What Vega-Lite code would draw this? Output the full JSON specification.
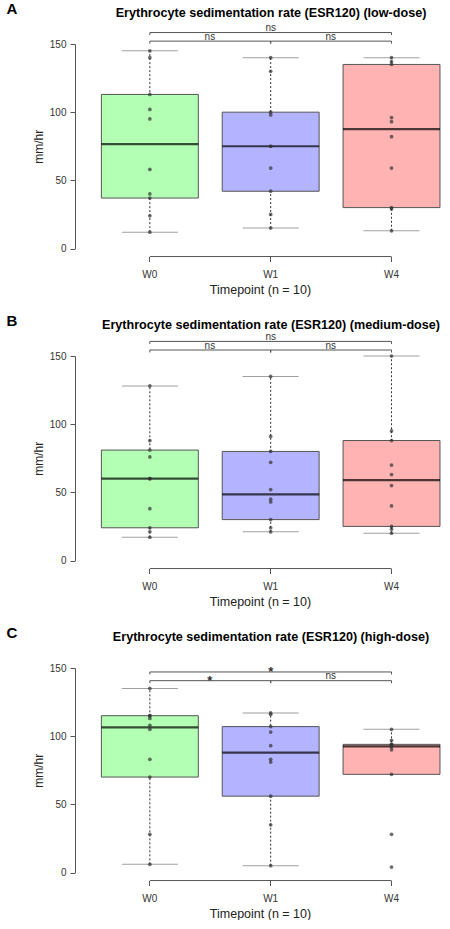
{
"$schema": "https://vega.github.io/schema/vega-lite/v6.json",
"background": "white",
"padding": {"left": 6, "top": 2, "right": 0, "bottom": 0},
"config": {"view": {"stroke": null}, "font": "Liberation Sans", "axis": {"grid": false, "domainColor": "#555", "tickColor": "#555", "labelColor": "#333", "titleColor": "#222", "titleFontWeight": "normal", "labelFont": "Liberation Sans", "titleFont": "Liberation Sans"}},
"datasets": {
"pts": [
{"p":"A","tp":"W0","v":12},{"p":"A","tp":"W0","v":24},{"p":"A","tp":"W0","v":37},{"p":"A","tp":"W0","v":40},{"p":"A","tp":"W0","v":58},{"p":"A","tp":"W0","v":95},{"p":"A","tp":"W0","v":102},{"p":"A","tp":"W0","v":113},{"p":"A","tp":"W0","v":140},{"p":"A","tp":"W0","v":145},
{"p":"A","tp":"W1","v":15},{"p":"A","tp":"W1","v":25},{"p":"A","tp":"W1","v":42},{"p":"A","tp":"W1","v":59},{"p":"A","tp":"W1","v":75},{"p":"A","tp":"W1","v":75},{"p":"A","tp":"W1","v":98},{"p":"A","tp":"W1","v":100},{"p":"A","tp":"W1","v":130},{"p":"A","tp":"W1","v":140},
{"p":"A","tp":"W4","v":13},{"p":"A","tp":"W4","v":29},{"p":"A","tp":"W4","v":30},{"p":"A","tp":"W4","v":59},{"p":"A","tp":"W4","v":82},{"p":"A","tp":"W4","v":93},{"p":"A","tp":"W4","v":96},{"p":"A","tp":"W4","v":135},{"p":"A","tp":"W4","v":137},{"p":"A","tp":"W4","v":140},
{"p":"B","tp":"W0","v":17},{"p":"B","tp":"W0","v":21},{"p":"B","tp":"W0","v":24},{"p":"B","tp":"W0","v":38},{"p":"B","tp":"W0","v":60},{"p":"B","tp":"W0","v":60},{"p":"B","tp":"W0","v":76},{"p":"B","tp":"W0","v":81},{"p":"B","tp":"W0","v":88},{"p":"B","tp":"W0","v":128},
{"p":"B","tp":"W1","v":21},{"p":"B","tp":"W1","v":24},{"p":"B","tp":"W1","v":30},{"p":"B","tp":"W1","v":43},{"p":"B","tp":"W1","v":45},{"p":"B","tp":"W1","v":52},{"p":"B","tp":"W1","v":72},{"p":"B","tp":"W1","v":80},{"p":"B","tp":"W1","v":91},{"p":"B","tp":"W1","v":135},
{"p":"B","tp":"W4","v":20},{"p":"B","tp":"W4","v":23},{"p":"B","tp":"W4","v":25},{"p":"B","tp":"W4","v":40},{"p":"B","tp":"W4","v":55},{"p":"B","tp":"W4","v":63},{"p":"B","tp":"W4","v":70},{"p":"B","tp":"W4","v":88},{"p":"B","tp":"W4","v":95},{"p":"B","tp":"W4","v":150},
{"p":"C","tp":"W0","v":6},{"p":"C","tp":"W0","v":28},{"p":"C","tp":"W0","v":70},{"p":"C","tp":"W0","v":83},{"p":"C","tp":"W0","v":105},{"p":"C","tp":"W0","v":108},{"p":"C","tp":"W0","v":113},{"p":"C","tp":"W0","v":115},{"p":"C","tp":"W0","v":115},{"p":"C","tp":"W0","v":135},
{"p":"C","tp":"W1","v":5},{"p":"C","tp":"W1","v":35},{"p":"C","tp":"W1","v":56},{"p":"C","tp":"W1","v":81},{"p":"C","tp":"W1","v":83},{"p":"C","tp":"W1","v":93},{"p":"C","tp":"W1","v":103},{"p":"C","tp":"W1","v":107},{"p":"C","tp":"W1","v":116},{"p":"C","tp":"W1","v":117},
{"p":"C","tp":"W4","v":4},{"p":"C","tp":"W4","v":28},{"p":"C","tp":"W4","v":72},{"p":"C","tp":"W4","v":90},{"p":"C","tp":"W4","v":92},{"p":"C","tp":"W4","v":93},{"p":"C","tp":"W4","v":94},{"p":"C","tp":"W4","v":94},{"p":"C","tp":"W4","v":97},{"p":"C","tp":"W4","v":105}
],
"box": [
{"p":"A","tp":"W0","low":12,"q1":37,"med":76.5,"q3":113,"high":145},
{"p":"A","tp":"W1","low":15,"q1":42,"med":75,"q3":100,"high":140},
{"p":"A","tp":"W4","low":13,"q1":30,"med":87.5,"q3":135,"high":140},
{"p":"B","tp":"W0","low":17,"q1":24,"med":60,"q3":81,"high":128},
{"p":"B","tp":"W1","low":21,"q1":30,"med":48.5,"q3":80,"high":135},
{"p":"B","tp":"W4","low":20,"q1":25,"med":59,"q3":88,"high":150},
{"p":"C","tp":"W0","low":6,"q1":70,"med":106.5,"q3":115,"high":135},
{"p":"C","tp":"W1","low":5,"q1":56,"med":88,"q3":107,"high":117},
{"p":"C","tp":"W4","low":72,"q1":72,"med":92.5,"q3":94,"high":105}
],
"br": [
{"p":"A","from":"W0","to":"W4","level":158.4,"label":"ns","span":2},
{"p":"A","from":"W0","to":"W1","level":152.1,"label":"ns","span":1},
{"p":"A","from":"W1","to":"W4","level":152.1,"label":"ns","span":1},
{"p":"B","from":"W0","to":"W4","level":160.7,"label":"ns","span":2},
{"p":"B","from":"W0","to":"W1","level":154.4,"label":"ns","span":1},
{"p":"B","from":"W1","to":"W4","level":154.4,"label":"ns","span":1},
{"p":"C","from":"W0","to":"W4","level":147.1,"label":"*","span":2},
{"p":"C","from":"W0","to":"W1","level":140.7,"label":"*","span":1},
{"p":"C","from":"W1","to":"W4","level":140.7,"label":"ns","span":1}
]
},
"vconcat": [
{
"width": 370, "height": 204.5,
"title": {"text": "Erythrocyte sedimentation rate (ESR120) (low-dose)", "fontSize": 12.6, "fontWeight": "bold", "font": "Liberation Sans", "frame": "group", "anchor": "middle", "dx": 11, "offset": -17, "color": "#000"},
"layer": [
{"data": {"name": "box"}, "transform": [{"filter": "datum.p === 'A'"}], "mark": {"type": "rule", "color": "#333", "strokeDash": [2, 2], "strokeWidth": 1},
 "encoding": {"x": {"field": "tp", "type": "nominal", "title": "Timepoint (n = 10)", "scale": {"domain": ["W0", "W1", "W4"], "paddingInner": 0.198, "paddingOuter": 0.13, "align": 0.84}, "axis": {"domain": false, "tickSize": 5, "offset": 8, "labelAngle": 0, "labelFontSize": 10, "labelPadding": 8, "titleFontSize": 12.5, "titlePadding": 4}},
  "y": {"field": "low", "type": "quantitative", "title": "mm/hr", "scale": {"domain": [0, 150], "nice": false, "zero": false}, "axis": {"values": [0, 50, 100, 150], "tickSize": 5, "labelFontSize": 10, "labelPadding": 4, "titleFontSize": 12, "titlePadding": 4}},
  "y2": {"field": "high"}}},
{"data": {"name": "box"}, "transform": [{"filter": "datum.p === 'A'"}], "mark": {"type": "tick", "color": "#777", "size": 56, "thickness": 1},
 "encoding": {"x": {"field": "tp", "type": "nominal", "title": "Timepoint (n = 10)"}, "y": {"field": "low", "type": "quantitative", "title": "mm/hr"}}},
{"data": {"name": "box"}, "transform": [{"filter": "datum.p === 'A'"}], "mark": {"type": "tick", "color": "#777", "size": 56, "thickness": 1},
 "encoding": {"x": {"field": "tp", "type": "nominal", "title": "Timepoint (n = 10)"}, "y": {"field": "high", "type": "quantitative", "title": "mm/hr"}}},
{"data": {"name": "box"}, "transform": [{"filter": "datum.p === 'A'"}], "mark": {"type": "bar", "stroke": "#555", "strokeWidth": 1},
 "encoding": {"x": {"field": "tp", "type": "nominal", "title": "Timepoint (n = 10)"}, "y": {"field": "q1", "type": "quantitative", "title": "mm/hr"}, "y2": {"field": "q3"},
  "color": {"field": "tp", "type": "nominal", "scale": {"domain": ["W0", "W1", "W4"], "range": ["#b3ffb3", "#b3b3ff", "#ffb3b3"]}, "legend": null}}},
{"data": {"name": "box"}, "transform": [{"filter": "datum.p === 'A'"}], "mark": {"type": "tick", "color": "#000", "size": 97, "thickness": 2.2},
 "encoding": {"x": {"field": "tp", "type": "nominal", "title": "Timepoint (n = 10)"}, "y": {"field": "med", "type": "quantitative", "title": "mm/hr"}}},
{"data": {"name": "pts"}, "transform": [{"filter": "datum.p === 'A'"}], "mark": {"type": "point", "filled": true, "color": "#333", "opacity": 0.7, "size": 14, "strokeWidth": 0},
 "encoding": {"x": {"field": "tp", "type": "nominal", "title": "Timepoint (n = 10)"}, "y": {"field": "v", "type": "quantitative", "title": "mm/hr"}}},
{"data": {"values": [{}]}, "mark": {"type": "rule", "color": "#555", "strokeWidth": 1},
 "encoding": {"x": {"datum": "W0", "type": "nominal", "title": "Timepoint (n = 10)"}, "x2": {"datum": "W4"}, "y": {"datum": -5.9, "type": "quantitative", "title": "mm/hr"}}},
{"data": {"name": "br"}, "transform": [{"filter": "datum.p === 'A'"}], "mark": {"type": "rule", "color": "#555", "strokeWidth": 1},
 "encoding": {"x": {"field": "from", "type": "nominal", "title": "Timepoint (n = 10)"}, "x2": {"field": "to"}, "y": {"field": "level", "type": "quantitative", "title": "mm/hr"}}},
{"data": {"name": "br"}, "transform": [{"filter": "datum.p === 'A'"}], "mark": {"type": "point", "shape": "M0,0V1", "size": 25, "filled": false, "color": "#555", "strokeWidth": 1, "opacity": 1},
 "encoding": {"x": {"field": "from", "type": "nominal", "title": "Timepoint (n = 10)"}, "y": {"field": "level", "type": "quantitative", "title": "mm/hr"}}},
{"data": {"name": "br"}, "transform": [{"filter": "datum.p === 'A'"}], "mark": {"type": "point", "shape": "M0,0V1", "size": 25, "filled": false, "color": "#555", "strokeWidth": 1, "opacity": 1},
 "encoding": {"x": {"field": "to", "type": "nominal", "title": "Timepoint (n = 10)"}, "y": {"field": "level", "type": "quantitative", "title": "mm/hr"}}},
{"data": {"name": "br"}, "transform": [{"filter": "datum.p === 'A' && datum.span === 1 && datum.label === 'ns'"}], "mark": {"type": "text", "fontSize": 10, "color": "#333", "baseline": "alphabetic", "dx": 60, "dy": -1.5},
 "encoding": {"x": {"field": "from", "type": "nominal", "title": "Timepoint (n = 10)"}, "y": {"field": "level", "type": "quantitative", "title": "mm/hr"}, "text": {"field": "label"}}},
{"data": {"name": "br"}, "transform": [{"filter": "datum.p === 'A' && datum.span === 2 && datum.label === 'ns'"}], "mark": {"type": "text", "fontSize": 10, "color": "#333", "baseline": "alphabetic", "dy": -1.5},
 "encoding": {"x": {"datum": "W1", "type": "nominal", "title": "Timepoint (n = 10)"}, "y": {"field": "level", "type": "quantitative", "title": "mm/hr"}, "text": {"field": "label"}}},
{"data": {"values": [{}]}, "mark": {"type": "text", "fontSize": 15, "fontWeight": "bold", "color": "#000", "baseline": "middle", "align": "center", "dx": -138},
 "encoding": {"x": {"datum": "W0", "type": "nominal", "title": "Timepoint (n = 10)"}, "y": {"datum": 175.5, "type": "quantitative", "title": "mm/hr"}, "text": {"value": "A"}}}
]
},
{
"width": 370, "height": 204.5,
"title": {"text": "Erythrocyte sedimentation rate (ESR120) (medium-dose)", "fontSize": 12.6, "fontWeight": "bold", "font": "Liberation Sans", "frame": "group", "anchor": "middle", "dx": 11, "offset": -17, "color": "#000"},
"layer": [
{"data": {"name": "box"}, "transform": [{"filter": "datum.p === 'B'"}], "mark": {"type": "rule", "color": "#333", "strokeDash": [2, 2], "strokeWidth": 1},
 "encoding": {"x": {"field": "tp", "type": "nominal", "title": "Timepoint (n = 10)", "scale": {"domain": ["W0", "W1", "W4"], "paddingInner": 0.198, "paddingOuter": 0.13, "align": 0.84}, "axis": {"domain": false, "tickSize": 5, "offset": 8, "labelAngle": 0, "labelFontSize": 10, "labelPadding": 8, "titleFontSize": 12.5, "titlePadding": 4}},
  "y": {"field": "low", "type": "quantitative", "title": "mm/hr", "scale": {"domain": [0, 150], "nice": false, "zero": false}, "axis": {"values": [0, 50, 100, 150], "tickSize": 5, "labelFontSize": 10, "labelPadding": 4, "titleFontSize": 12, "titlePadding": 4}},
  "y2": {"field": "high"}}},
{"data": {"name": "box"}, "transform": [{"filter": "datum.p === 'B'"}], "mark": {"type": "tick", "color": "#777", "size": 56, "thickness": 1},
 "encoding": {"x": {"field": "tp", "type": "nominal", "title": "Timepoint (n = 10)"}, "y": {"field": "low", "type": "quantitative", "title": "mm/hr"}}},
{"data": {"name": "box"}, "transform": [{"filter": "datum.p === 'B'"}], "mark": {"type": "tick", "color": "#777", "size": 56, "thickness": 1},
 "encoding": {"x": {"field": "tp", "type": "nominal", "title": "Timepoint (n = 10)"}, "y": {"field": "high", "type": "quantitative", "title": "mm/hr"}}},
{"data": {"name": "box"}, "transform": [{"filter": "datum.p === 'B'"}], "mark": {"type": "bar", "stroke": "#555", "strokeWidth": 1},
 "encoding": {"x": {"field": "tp", "type": "nominal", "title": "Timepoint (n = 10)"}, "y": {"field": "q1", "type": "quantitative", "title": "mm/hr"}, "y2": {"field": "q3"},
  "color": {"field": "tp", "type": "nominal", "scale": {"domain": ["W0", "W1", "W4"], "range": ["#b3ffb3", "#b3b3ff", "#ffb3b3"]}, "legend": null}}},
{"data": {"name": "box"}, "transform": [{"filter": "datum.p === 'B'"}], "mark": {"type": "tick", "color": "#000", "size": 97, "thickness": 2.2},
 "encoding": {"x": {"field": "tp", "type": "nominal", "title": "Timepoint (n = 10)"}, "y": {"field": "med", "type": "quantitative", "title": "mm/hr"}}},
{"data": {"name": "pts"}, "transform": [{"filter": "datum.p === 'B'"}], "mark": {"type": "point", "filled": true, "color": "#333", "opacity": 0.7, "size": 14, "strokeWidth": 0},
 "encoding": {"x": {"field": "tp", "type": "nominal", "title": "Timepoint (n = 10)"}, "y": {"field": "v", "type": "quantitative", "title": "mm/hr"}}},
{"data": {"values": [{}]}, "mark": {"type": "rule", "color": "#555", "strokeWidth": 1},
 "encoding": {"x": {"datum": "W0", "type": "nominal", "title": "Timepoint (n = 10)"}, "x2": {"datum": "W4"}, "y": {"datum": -5.9, "type": "quantitative", "title": "mm/hr"}}},
{"data": {"name": "br"}, "transform": [{"filter": "datum.p === 'B'"}], "mark": {"type": "rule", "color": "#555", "strokeWidth": 1},
 "encoding": {"x": {"field": "from", "type": "nominal", "title": "Timepoint (n = 10)"}, "x2": {"field": "to"}, "y": {"field": "level", "type": "quantitative", "title": "mm/hr"}}},
{"data": {"name": "br"}, "transform": [{"filter": "datum.p === 'B'"}], "mark": {"type": "point", "shape": "M0,0V1", "size": 25, "filled": false, "color": "#555", "strokeWidth": 1, "opacity": 1},
 "encoding": {"x": {"field": "from", "type": "nominal", "title": "Timepoint (n = 10)"}, "y": {"field": "level", "type": "quantitative", "title": "mm/hr"}}},
{"data": {"name": "br"}, "transform": [{"filter": "datum.p === 'B'"}], "mark": {"type": "point", "shape": "M0,0V1", "size": 25, "filled": false, "color": "#555", "strokeWidth": 1, "opacity": 1},
 "encoding": {"x": {"field": "to", "type": "nominal", "title": "Timepoint (n = 10)"}, "y": {"field": "level", "type": "quantitative", "title": "mm/hr"}}},
{"data": {"name": "br"}, "transform": [{"filter": "datum.p === 'B' && datum.span === 1 && datum.label === 'ns'"}], "mark": {"type": "text", "fontSize": 10, "color": "#333", "baseline": "alphabetic", "dx": 60, "dy": -1.5},
 "encoding": {"x": {"field": "from", "type": "nominal", "title": "Timepoint (n = 10)"}, "y": {"field": "level", "type": "quantitative", "title": "mm/hr"}, "text": {"field": "label"}}},
{"data": {"name": "br"}, "transform": [{"filter": "datum.p === 'B' && datum.span === 2 && datum.label === 'ns'"}], "mark": {"type": "text", "fontSize": 10, "color": "#333", "baseline": "alphabetic", "dy": -1.5},
 "encoding": {"x": {"datum": "W1", "type": "nominal", "title": "Timepoint (n = 10)"}, "y": {"field": "level", "type": "quantitative", "title": "mm/hr"}, "text": {"field": "label"}}},
{"data": {"values": [{}]}, "mark": {"type": "text", "fontSize": 15, "fontWeight": "bold", "color": "#000", "baseline": "middle", "align": "center", "dx": -138},
 "encoding": {"x": {"datum": "W0", "type": "nominal", "title": "Timepoint (n = 10)"}, "y": {"datum": 175.5, "type": "quantitative", "title": "mm/hr"}, "text": {"value": "B"}}}
]
},
{
"width": 370, "height": 204.5,
"title": {"text": "Erythrocyte sedimentation rate (ESR120) (high-dose)", "fontSize": 12.6, "fontWeight": "bold", "font": "Liberation Sans", "frame": "group", "anchor": "middle", "dx": 11, "offset": -17, "color": "#000"},
"layer": [
{"data": {"name": "box"}, "transform": [{"filter": "datum.p === 'C'"}], "mark": {"type": "rule", "color": "#333", "strokeDash": [2, 2], "strokeWidth": 1},
 "encoding": {"x": {"field": "tp", "type": "nominal", "title": "Timepoint (n = 10)", "scale": {"domain": ["W0", "W1", "W4"], "paddingInner": 0.198, "paddingOuter": 0.13, "align": 0.84}, "axis": {"domain": false, "tickSize": 5, "offset": 8, "labelAngle": 0, "labelFontSize": 10, "labelPadding": 8, "titleFontSize": 12.5, "titlePadding": 4}},
  "y": {"field": "low", "type": "quantitative", "title": "mm/hr", "scale": {"domain": [0, 150], "nice": false, "zero": false}, "axis": {"values": [0, 50, 100, 150], "tickSize": 5, "labelFontSize": 10, "labelPadding": 4, "titleFontSize": 12, "titlePadding": 4}},
  "y2": {"field": "high"}}},
{"data": {"name": "box"}, "transform": [{"filter": "datum.p === 'C' && datum.low < datum.q1"}], "mark": {"type": "tick", "color": "#777", "size": 56, "thickness": 1},
 "encoding": {"x": {"field": "tp", "type": "nominal", "title": "Timepoint (n = 10)"}, "y": {"field": "low", "type": "quantitative", "title": "mm/hr"}}},
{"data": {"name": "box"}, "transform": [{"filter": "datum.p === 'C'"}], "mark": {"type": "tick", "color": "#777", "size": 56, "thickness": 1},
 "encoding": {"x": {"field": "tp", "type": "nominal", "title": "Timepoint (n = 10)"}, "y": {"field": "high", "type": "quantitative", "title": "mm/hr"}}},
{"data": {"name": "box"}, "transform": [{"filter": "datum.p === 'C'"}], "mark": {"type": "bar", "stroke": "#555", "strokeWidth": 1},
 "encoding": {"x": {"field": "tp", "type": "nominal", "title": "Timepoint (n = 10)"}, "y": {"field": "q1", "type": "quantitative", "title": "mm/hr"}, "y2": {"field": "q3"},
  "color": {"field": "tp", "type": "nominal", "scale": {"domain": ["W0", "W1", "W4"], "range": ["#b3ffb3", "#b3b3ff", "#ffb3b3"]}, "legend": null}}},
{"data": {"name": "box"}, "transform": [{"filter": "datum.p === 'C'"}], "mark": {"type": "tick", "color": "#000", "size": 97, "thickness": 2.2},
 "encoding": {"x": {"field": "tp", "type": "nominal", "title": "Timepoint (n = 10)"}, "y": {"field": "med", "type": "quantitative", "title": "mm/hr"}}},
{"data": {"name": "pts"}, "transform": [{"filter": "datum.p === 'C'"}], "mark": {"type": "point", "filled": true, "color": "#333", "opacity": 0.7, "size": 14, "strokeWidth": 0},
 "encoding": {"x": {"field": "tp", "type": "nominal", "title": "Timepoint (n = 10)"}, "y": {"field": "v", "type": "quantitative", "title": "mm/hr"}}},
{"data": {"values": [{}]}, "mark": {"type": "rule", "color": "#555", "strokeWidth": 1},
 "encoding": {"x": {"datum": "W0", "type": "nominal", "title": "Timepoint (n = 10)"}, "x2": {"datum": "W4"}, "y": {"datum": -5.9, "type": "quantitative", "title": "mm/hr"}}},
{"data": {"name": "br"}, "transform": [{"filter": "datum.p === 'C'"}], "mark": {"type": "rule", "color": "#555", "strokeWidth": 1},
 "encoding": {"x": {"field": "from", "type": "nominal", "title": "Timepoint (n = 10)"}, "x2": {"field": "to"}, "y": {"field": "level", "type": "quantitative", "title": "mm/hr"}}},
{"data": {"name": "br"}, "transform": [{"filter": "datum.p === 'C'"}], "mark": {"type": "point", "shape": "M0,0V1", "size": 25, "filled": false, "color": "#555", "strokeWidth": 1, "opacity": 1},
 "encoding": {"x": {"field": "from", "type": "nominal", "title": "Timepoint (n = 10)"}, "y": {"field": "level", "type": "quantitative", "title": "mm/hr"}}},
{"data": {"name": "br"}, "transform": [{"filter": "datum.p === 'C'"}], "mark": {"type": "point", "shape": "M0,0V1", "size": 25, "filled": false, "color": "#555", "strokeWidth": 1, "opacity": 1},
 "encoding": {"x": {"field": "to", "type": "nominal", "title": "Timepoint (n = 10)"}, "y": {"field": "level", "type": "quantitative", "title": "mm/hr"}}},
{"data": {"name": "br"}, "transform": [{"filter": "datum.p === 'C' && datum.span === 1 && datum.label === 'ns'"}], "mark": {"type": "text", "fontSize": 10, "color": "#333", "baseline": "alphabetic", "dx": 60, "dy": -1.5},
 "encoding": {"x": {"field": "from", "type": "nominal", "title": "Timepoint (n = 10)"}, "y": {"field": "level", "type": "quantitative", "title": "mm/hr"}, "text": {"field": "label"}}},
{"data": {"name": "br"}, "transform": [{"filter": "datum.p === 'C' && datum.span === 1 && datum.label === '*'"}], "mark": {"type": "text", "fontSize": 13, "fontWeight": "bold", "color": "#333", "baseline": "alphabetic", "dx": 60, "dy": 4.5},
 "encoding": {"x": {"field": "from", "type": "nominal", "title": "Timepoint (n = 10)"}, "y": {"field": "level", "type": "quantitative", "title": "mm/hr"}, "text": {"field": "label"}}},
{"data": {"name": "br"}, "transform": [{"filter": "datum.p === 'C' && datum.span === 2 && datum.label === '*'"}], "mark": {"type": "text", "fontSize": 13, "fontWeight": "bold", "color": "#333", "baseline": "alphabetic", "dy": 4.5},
 "encoding": {"x": {"datum": "W1", "type": "nominal", "title": "Timepoint (n = 10)"}, "y": {"field": "level", "type": "quantitative", "title": "mm/hr"}, "text": {"field": "label"}}},
{"data": {"values": [{}]}, "mark": {"type": "text", "fontSize": 15, "fontWeight": "bold", "color": "#000", "baseline": "middle", "align": "center", "dx": -138},
 "encoding": {"x": {"datum": "W0", "type": "nominal", "title": "Timepoint (n = 10)"}, "y": {"datum": 175.5, "type": "quantitative", "title": "mm/hr"}, "text": {"value": "C"}}}
]
}
],
"spacing": 18
}
